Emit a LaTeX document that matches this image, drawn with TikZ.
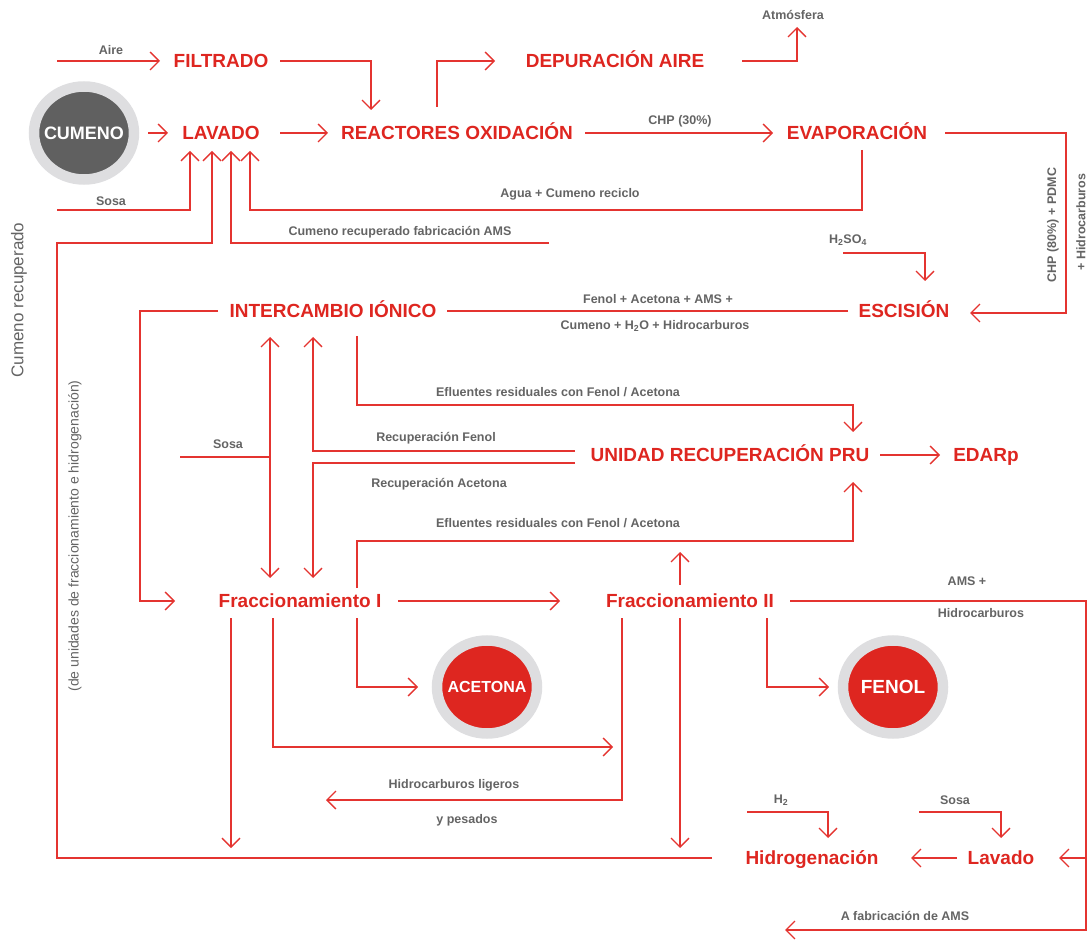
\documentclass[tikz,border=0pt]{standalone}
\usepackage{fontspec}
\setmainfont{Liberation Sans}
\usetikzlibrary{arrows.meta,shapes.geometric}
\definecolor{tred}{RGB}{222,38,32}
\definecolor{lred}{RGB}{228,52,48}
\definecolor{lgray}{RGB}{100,100,100}
\definecolor{ringgray}{RGB}{222,222,224}
\definecolor{darkc}{RGB}{96,96,96}
\newcommand\hdfont{\bfseries\fontsize{19}{22}\selectfont}
\newcommand\lbfont{\bfseries\fontsize{12.5}{15}\selectfont}
\tikzset{
  ln/.style={draw=lred, line width=1.3pt},
  tipb/.tip={Straight Barb[length=9pt,width=18pt,line width=1.3pt]},
  arr/.style={ln, -tipb},
  darr/.style={ln, tipb-tipb},
  hd/.style={text=tred, font=\hdfont, inner sep=0pt, text height=13.6pt, text depth=0pt},
  lb/.style={text=lgray, font=\lbfont, inner sep=0pt},
  disc/.style={ellipse, draw=ringgray, line width=10.5pt, minimum width=100pt, minimum height=93pt, inner sep=0pt},
  disctext/.style={text=white, inner sep=0pt, font=\bfseries\fontsize{#1}{20}\selectfont},
}
\begin{document}
\begin{tikzpicture}[x=1pt,y=-1pt]
\useasboundingbox (0,0) rectangle (1088,941);
% ---------- nodes ----------
\node[hd] (filtrado) at (221,61) {FILTRADO};
\node[hd] (lavado) at (221,133) {LAVADO};
\node[hd] (reactores) at (457,133) {REACTORES OXIDACIÓN};
\node[hd] (depuracion) at (615,61) {DEPURACIÓN AIRE};
\node[hd] (evap) at (857,133) {EVAPORACIÓN};
\node[hd] (escision) at (904,311) {ESCISIÓN};
\node[hd] (intercambio) at (333,311) {INTERCAMBIO IÓNICO};
\node[hd] (pru) at (730,455) {UNIDAD RECUPERACIÓN PRU};
\node[hd] (edarp) at (986,455) {EDARp};
\node[hd] (fracI) at (300,601) {Fraccionamiento I};
\node[hd] (fracII) at (690,601) {Fraccionamiento II};
\node[hd] (hidro) at (812,858) {Hidrogenación};
\node[hd] (lavado2) at (1001,858) {Lavado};
\node[disc, fill=darkc, label={[disctext=18]center:CUMENO}] (cumeno) at (84,133) {};
\node[disc, fill=tred, label={[disctext=16]center:ACETONA}] (acetona) at (487,687) {};
\node[disc, fill=tred, label={[disctext=19]center:FENOL}] (fenol) at (893,687) {};
% ---------- coordinates ----------
\coordinate (aireS) at (57,61);
\coordinate (filIn) at (160,61);
\coordinate (filOut) at (280,61);
\coordinate (reaIn) at (371,110);
\coordinate (reaUp) at (437,107);
\coordinate (depIn) at (495,61);
\coordinate (depOut) at (742,61);
\coordinate (atm) at (797,27);
\coordinate (cumOut) at (148,133);
\coordinate (lavIn) at (168,133);
\coordinate (lavOut) at (280,133);
\coordinate (reaIn2) at (328,133);
\coordinate (reaOut) at (585,133);
\coordinate (evaIn) at (773,133);
\coordinate (evaOut) at (945,133);
\coordinate (evaR) at (1066,133);
\coordinate (escIn) at (970,313);
\coordinate (evaDown) at (862,150);
\coordinate (aguaL) at (250,210);
\coordinate (lavA) at (190,151);
\coordinate (lavB) at (212,151);
\coordinate (lavC) at (231,151);
\coordinate (lavD) at (250,151);
\coordinate (sosaS) at (57,210);
\coordinate (recL) at (57,243);
\coordinate (amsS) at (549,243);
\coordinate (hidOut) at (712,858);
\coordinate (h2so4S) at (843,253);
\coordinate (escTop) at (925,281);
\coordinate (escOut) at (848,311);
\coordinate (intR) at (447,311);
\coordinate (intL) at (218,311);
\coordinate (leftV) at (140,601);
\coordinate (frIIn) at (175,601);
\coordinate (dTop) at (270,337);
\coordinate (dBot) at (270,578);
\coordinate (sosa2S) at (180,457);
\coordinate (sosa2E) at (270,457);
\coordinate (fenTop) at (313,337);
\coordinate (aceBot) at (313,578);
\coordinate (recF) at (575,451);
\coordinate (recA) at (575,463);
\coordinate (ef1S) at (357,336);
\coordinate (ef1C) at (853,405);
\coordinate (ef1T) at (853,432);
\coordinate (ef2S) at (357,588);
\coordinate (ef2C) at (853,541);
\coordinate (ef2T) at (853,482);
\coordinate (pruOut) at (880,455);
\coordinate (edIn) at (940,455);
\coordinate (f2upS) at (680,585);
\coordinate (f2upT) at (680,552);
\coordinate (f1Out) at (398,601);
\coordinate (f2In) at (560,601);
\coordinate (f2Out) at (790,601);
\coordinate (rightB) at (1086,930);
\coordinate (amsEnd) at (785,930);
\coordinate (rightM) at (1086,858);
\coordinate (lav2In) at (1059,858);
\coordinate (lav2Out) at (957,858);
\coordinate (hidIn) at (911,858);
\coordinate (sosa3S) at (919,812);
\coordinate (lav2Top) at (1001,838);
\coordinate (h2S) at (747,812);
\coordinate (hidTop) at (828,838);
\coordinate (a1S) at (231,618);
\coordinate (a1T) at (231,848);
\coordinate (a2S) at (273,618);
\coordinate (a2T) at (613,747);
\coordinate (a3S) at (357,618);
\coordinate (a3T) at (418,687);
\coordinate (b1S) at (622,618);
\coordinate (b1T) at (326,800);
\coordinate (b2S) at (680,618);
\coordinate (b2T) at (680,848);
\coordinate (b3S) at (767,618);
\coordinate (b3T) at (829,687);
% ---------- connectors ----------
\draw[arr] (aireS) -- (filIn);
\draw[arr] (filOut) -| (reaIn);
\draw[arr] (reaUp) |- (depIn);
\draw[arr] (depOut) -| (atm);
\draw[arr] (cumOut) -- (lavIn);
\draw[arr] (lavOut) -- (reaIn2);
\draw[arr] (reaOut) -- (evaIn);
\draw[arr] (evaOut) -- (evaR) |- (escIn);
\draw[arr] (evaDown) |- (aguaL) -- (lavD);
\draw[arr] (sosaS) -| (lavA);
\draw[arr] (hidOut) -| (recL) -| (lavB);
\draw[arr] (amsS) -| (lavC);
\draw[arr] (h2so4S) -| (escTop);
\draw[ln] (escOut) -- (intR);
\draw[arr] (intL) -| (leftV) -- (frIIn);
\draw[darr] (dTop) -- (dBot);
\draw[ln] (sosa2S) -- (sosa2E);
\draw[arr] (recF) -| (fenTop);
\draw[arr] (recA) -| (aceBot);
\draw[arr] (ef1S) |- (ef1C) -- (ef1T);
\draw[arr] (ef2S) |- (ef2C) -- (ef2T);
\draw[arr] (pruOut) -- (edIn);
\draw[arr] (f2upS) -- (f2upT);
\draw[arr] (f1Out) -- (f2In);
\draw[arr] (f2Out) -| (rightB) -- (amsEnd);
\draw[arr] (rightM) -- (lav2In);
\draw[arr] (lav2Out) -- (hidIn);
\draw[arr] (sosa3S) -| (lav2Top);
\draw[arr] (h2S) -| (hidTop);
\draw[arr] (a1S) -- (a1T);
\draw[arr] (a2S) |- (a2T);
\draw[arr] (a3S) |- (a3T);
\draw[arr] (b1S) |- (b1T);
\draw[arr] (b2S) -- (b2T);
\draw[arr] (b3S) |- (b3T);
% ---------- labels ----------
\node[lb] (lAire) at (111,50) {Aire};
\node[lb] (lAtm) at (793,15) {Atmósfera};
\node[lb] (lChp30) at (680,121) {CHP (30\%)};
\node[lb] (lAgua) at (570,194) {Agua + Cumeno reciclo};
\node[lb] (lSosa1) at (111,201) {Sosa};
\node[lb] (lCrec) at (400,232) {Cumeno recuperado fabricación AMS};
\node[lb] (lH2so4) at (848,240) {H\textsubscript{2}SO\textsubscript{4}};
\node[lb] (lChp80) at (1053,225) [rotate=90] {CHP (80\%) + PDMC};
\node[lb] (lHidr) at (1081,222) [rotate=90] {+ Hidrocarburos};
\node[lb] (lFen) at (658,299) {Fenol + Acetona + AMS +};
\node[lb] (lCum) at (655,326) {Cumeno + H\textsubscript{2}O + Hidrocarburos};
\node[lb] (lEf1) at (558,392) {Efluentes residuales con Fenol / Acetona};
\node[lb] (lRecF) at (436,438) {Recuperación Fenol};
\node[lb] (lSosa2) at (228,444) {Sosa};
\node[lb] (lRecA) at (439,484) {Recuperación Acetona};
\node[lb] (lEf2) at (558,523) {Efluentes residuales con Fenol / Acetona};
\node[lb] (lAms) at (967,581) {AMS +};
\node[lb] (lHc) at (981,613) {Hidrocarburos};
\node[lb] (lHl) at (454,785) {Hidrocarburos ligeros};
\node[lb] (lYp) at (467,820) {y pesados};
\node[lb] (lH2) at (781,800) {H\textsubscript{2}};
\node[lb] (lSosa3) at (955,800) {Sosa};
\node[lb] (lAfab) at (905,916) {A fabricación de AMS};
\node[text=lgray, inner sep=0pt, font=\fontsize{17}{20}\selectfont, rotate=90] (lCumRec) at (19,300) {Cumeno recuperado};
\node[text=lgray, inner sep=0pt, font=\fontsize{14}{17}\selectfont, rotate=90] (lDeUn) at (75,536) {(de unidades de fraccionamiento e hidrogenación)};
\end{tikzpicture}
\end{document}
